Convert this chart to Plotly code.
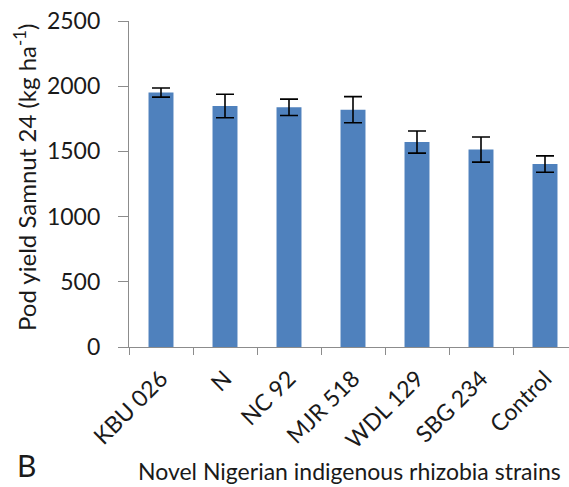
import plotly.graph_objects as go

categories = ["KBU 026", "N", "NC 92", "MJR 518", "WDL 129", "SBG 234", "Control"]
pod_yield = [1951, 1848, 1838, 1820, 1572, 1514, 1403]
yield_err = [35, 90, 63, 100, 85, 96, 63]
y_ticks = [0, 500, 1000, 1500, 2000, 2500]

W, H = 569, 487
L, R, T, B = 129, 0, 21, 140
PW, PH = W - L - R, H - T - B
font = "Lato, 'Open Sans', sans-serif"
txt = "#1a1a1a"


def py(pix):
    """pixel row -> paper y"""
    return (H - B - pix) / PH


def px(pix):
    return (pix - L) / PW


fig = go.Figure()
fig.add_trace(go.Bar(
    x=categories, y=pod_yield,
    marker=dict(color="#4F81BD", line=dict(width=0)),
    width=0.39,
    error_y=dict(type="data", array=yield_err, visible=True,
                 color="black", thickness=1.6, width=9),
))

fig.update_layout(
    width=W, height=H,
    margin=dict(l=L, r=R, t=T, b=B, pad=0),
    paper_bgcolor="white", plot_bgcolor="white",
    showlegend=False,
    font=dict(family=font, color=txt),
    xaxis=dict(
        range=[-0.5, 6.375],
        showline=True, linecolor="#8c8c8c", linewidth=1.3,
        ticks="outside", tickson="boundaries", ticklen=7, tickcolor="#8c8c8c",
        tickangle=-45, tickfont=dict(size=23, family=font, color=txt),
        ticklabelstandoff=8,
        showgrid=False, zeroline=False,
    ),
    yaxis=dict(
        range=[0, 2500], tickvals=y_ticks,
        showline=True, linecolor="#8c8c8c", linewidth=1.3,
        ticks="outside", ticklen=10, tickcolor="#8c8c8c",
        tickfont=dict(size=23, family=font, color=txt),
        ticklabelstandoff=13,
        showgrid=False, zeroline=False,
    ),
    annotations=[
        dict(text="Pod yield Samnut 24 (kg ha<sup>-1</sup>)", textangle=-90,
             xref="paper", yref="paper",
             x=px(25), y=py(178), xanchor="center", yanchor="middle",
             showarrow=False, font=dict(size=24, family=font, color=txt)),
        dict(text="Novel Nigerian indigenous rhizobia strains",
             xref="paper", yref="paper",
             x=px(136), y=py(471),
             xanchor="left", yanchor="middle",
             showarrow=False, font=dict(size=23, family=font, color=txt)),
        dict(text="B",
             xref="paper", yref="paper",
             x=px(15), y=py(465),
             xanchor="left", yanchor="middle",
             showarrow=False, font=dict(size=30, family=font, color=txt)),
    ],
)

fig.write_html("out.html")
